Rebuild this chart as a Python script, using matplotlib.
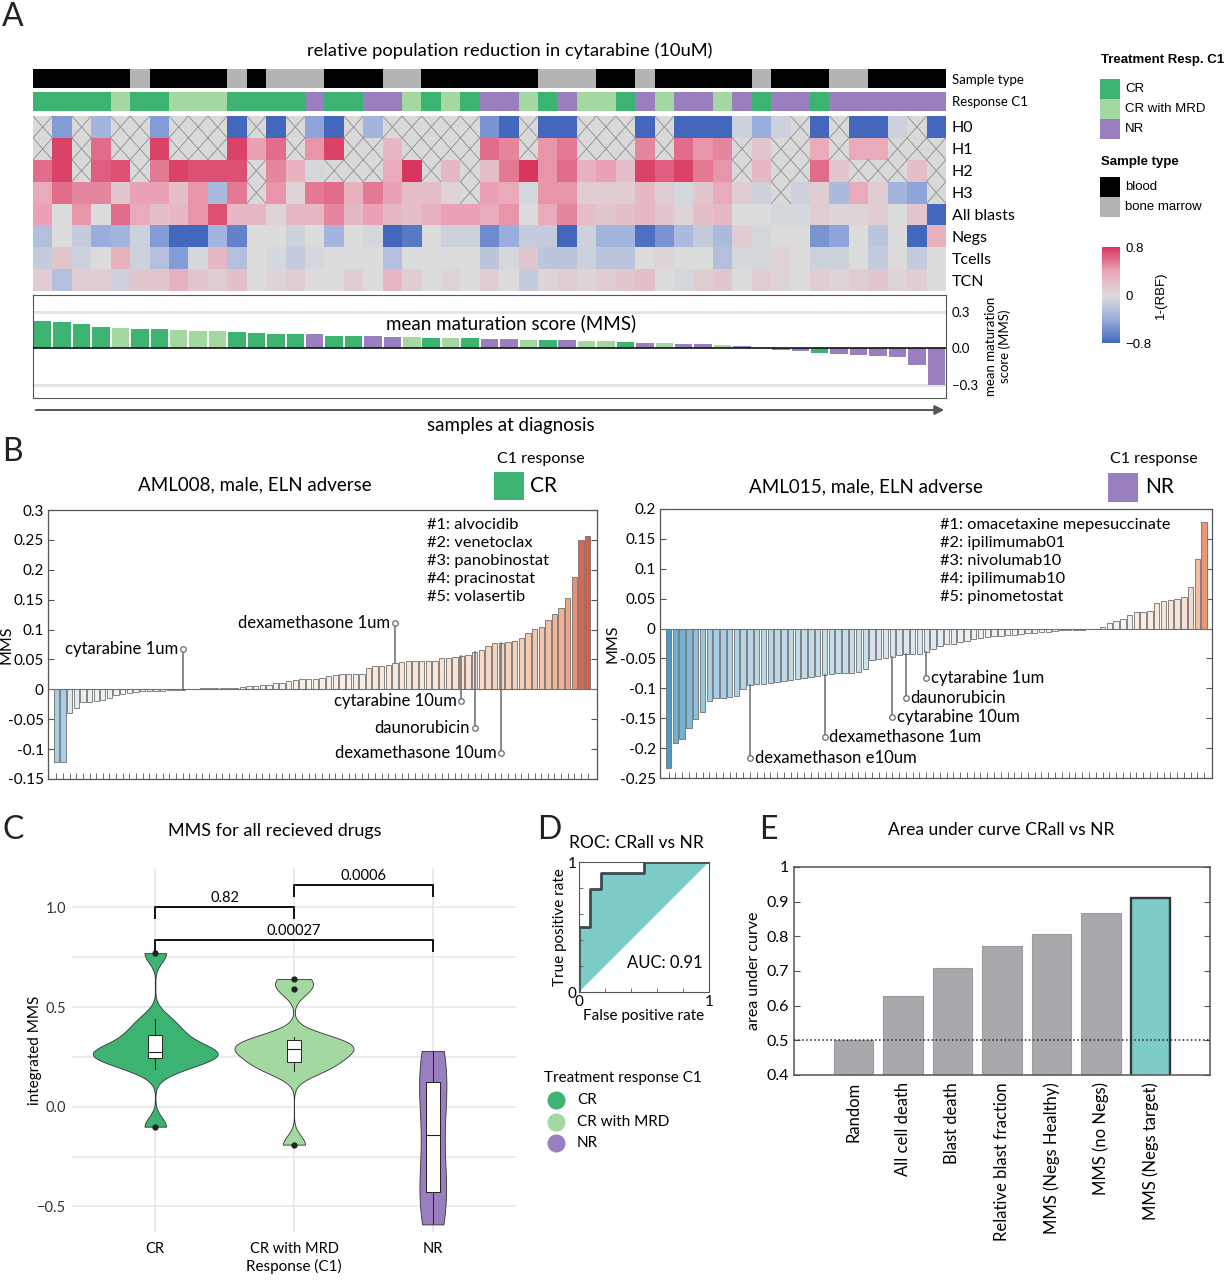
import numpy as np
import matplotlib
matplotlib.use('Agg')
import matplotlib.pyplot as plt
from matplotlib.colors import LinearSegmentedColormap, ListedColormap, Normalize
from matplotlib.patches import Rectangle, FancyArrowPatch
from matplotlib.cm import ScalarMappable
from matplotlib.lines import Line2D

plt.rcParams['font.family'] = ['Lato', 'DejaVu Sans']

W, H = 1229, 1280
nan = np.nan

# ---------------- panel A data (47 samples, sorted by MMS) ----------------
sample_type = "BBBBBMBBBBMBMMMBBBMMBBBBBBMMMBBMBBBBBMBBBMMBBBB"   # B blood, M bone marrow
response = "CCCCMCCMMMCCCCNCCNNMCMCNNMCNMMCNMNNMNCNNCNNNNNN"      # C CR, M CR with MRD, N NR

heat_labels = ['H0', 'H1', 'H2', 'H3', 'All blasts', 'Negs', 'Tcells', 'TCN']
h0 = [nan, -0.5, nan, -0.35, nan, nan, -0.5, nan, nan, nan, -0.8, nan, -0.8, nan, -0.45, -0.8,
      nan, -0.35, nan, nan, nan, nan, nan, -0.55, -0.8, nan, -0.8, -0.8, nan, nan, nan, -0.8,
      nan, -0.8, -0.8, -0.8, -0.1, -0.4, -0.1, nan, -0.8, nan, -0.8, -0.8, -0.1, nan, -0.8]
h1 = [nan, 0.75, nan, 0.6, nan, nan, 0.75, nan, nan, nan, 0.75, 0.4, 0.6, nan, 0.45, 0.75,
      nan, nan, 0.25, nan, nan, nan, nan, 0.6, 0.5, nan, 0.45, 0.55, nan, nan, nan, 0.5,
      nan, 0.6, 0.45, 0.5, nan, 0.15, nan, nan, 0.35, nan, 0.35, 0.35, nan, nan, nan]
h2 = [0.6, 0.75, nan, 0.65, 0.7, nan, 0.55, 0.75, 0.7, 0.7, 0.7, nan, 0.5, 0.3, -0.05, nan,
      nan, nan, 0.35, 0.8, nan, 0.25, nan, 0.2, 0.55, 0.8, 0.45, 0.6, 0.3, 0.4, 0.2, 0.75,
      0.65, 0.75, 0.55, 0.45, nan, 0.25, nan, nan, 0.6, 0.15, nan, nan, nan, 0.2, nan]
h3 = [0.35, 0.6, 0.5, 0.5, 0.15, 0.4, 0.4, 0.2, 0.45, -0.3, 0.55, nan, 0.45, 0.05, 0.55, 0.6,
      0.3, 0.55, 0.4, 0.2, 0.2, 0.05, nan, 0.4, 0.35, -0.05, 0.45, 0.45, 0.1, 0.1, 0.1, 0.25,
      0.1, -0.05, 0.15, 0.35, 0.1, -0.1, nan, -0.1, 0.1, -0.3, 0.35, 0.1, -0.35, -0.45, nan]
blasts = [0.4, 0.0, 0.45, 0.0, 0.6, 0.35, 0.2, 0.25, 0.45, 0.7, 0.25, 0.25, 0.05, 0.25, 0.25, 0.5,
          0.25, 0.4, 0.25, 0.2, 0.3, 0.4, 0.4, 0.35, 0.45, 0.0, 0.35, 0.5, 0.2, 0.15, 0.2, 0.25,
          0.15, 0.05, 0.2, 0.25, 0.0, 0.0, -0.05, -0.05, 0.1, 0.05, 0.05, 0.1, 0.0, 0.15, -0.8]
negs = [-0.25, 0.0, -0.15, -0.4, -0.35, -0.1, -0.5, -0.8, -0.8, -0.35, -0.65, 0.0, 0.0, -0.1, 0.0, -0.35,
        0.0, -0.05, -0.8, -0.7, 0.0, -0.1, -0.1, -0.6, -0.4, -0.15, -0.15, -0.8, -0.1, -0.35, -0.35, -0.75,
        -0.55, -0.3, -0.15, -0.3, 0.1, -0.05, 0.0, 0.0, -0.55, -0.45, 0.0, -0.2, 0.0, -0.8, 0.3]
tcells = [-0.15, 0.15, -0.1, 0.0, 0.3, -0.1, -0.25, -0.5, -0.05, 0.25, -0.25, 0.0, -0.05, -0.15, -0.05, 0.0,
          0.0, 0.0, -0.25, 0.0, 0.0, 0.0, 0.0, -0.2, -0.05, 0.15, -0.2, -0.2, -0.1, -0.2, -0.2, 0.0,
          0.05, 0.0, 0.0, -0.25, -0.05, -0.05, 0.05, 0.0, -0.1, -0.1, 0.0, -0.15, 0.0, -0.15, 0.0]
tcn = [0.1, -0.25, 0.1, 0.1, -0.1, 0.15, 0.15, 0.3, 0.15, 0.1, 0.2, 0.0, 0.05, 0.1, 0.0, 0.0,
       0.1, 0.0, 0.25, 0.1, 0.0, 0.05, 0.0, 0.1, 0.0, -0.15, 0.05, 0.1, 0.05, 0.1, 0.15, 0.2,
       0.0, -0.05, 0.1, 0.15, 0.0, 0.1, 0.05, 0.0, 0.1, 0.05, 0.1, 0.15, 0.05, 0.1, 0.0]

mms = [0.229, 0.221, 0.199, 0.175, 0.169, 0.161, 0.161, 0.150, 0.147, 0.145, 0.134, 0.123,
       0.115, 0.115, 0.115, 0.104, 0.104, 0.098, 0.095, 0.090, 0.085, 0.085, 0.082, 0.079,
       0.074, 0.068, 0.068, 0.065, 0.063, 0.057, 0.052, 0.044, 0.041, 0.038, 0.035, 0.030,
       0.022, 0.002, -0.016, -0.025, -0.041, -0.044, -0.057, -0.060, -0.068, -0.136, -0.305]

resp_names = ['CR', 'CR with MRD', 'NR']
resp_codes = ['C', 'M', 'N']
resp_colors = ['#3cb371', '#a3d8a1', '#9a7fc0']
st_names = ['blood', 'bone marrow']
st_colors = ['#000000', '#b4b4b4']

# ---------------- panel B data ----------------
aml008 = [-0.121, -0.121, -0.039, -0.031, -0.022, -0.021, -0.019, -0.018, -0.015, -0.009,
          -0.008, -0.006, -0.004, -0.003, -0.003, -0.002, -0.002, -0.001, -0.001, -0.0005,
          0.0, 0.001, 0.002, 0.002, 0.003, 0.003, 0.003, 0.003, 0.004, 0.005,
          0.006, 0.007, 0.008, 0.010, 0.010, 0.014, 0.016, 0.017, 0.017, 0.017,
          0.019, 0.023, 0.024, 0.025, 0.025, 0.025, 0.026, 0.036, 0.039, 0.039,
          0.041, 0.044, 0.046, 0.047, 0.048, 0.048, 0.048, 0.048, 0.052, 0.053,
          0.054, 0.056, 0.058, 0.062, 0.066, 0.073, 0.077, 0.078, 0.080, 0.081,
          0.086, 0.094, 0.101, 0.104, 0.116, 0.126, 0.136, 0.153, 0.188, 0.250, 0.257]
aml008_marks = [('cytarabine 1um', 19, 0.068), ('dexamethasone 1um', 51, 0.111),
                ('cytarabine 10um', 61, -0.019), ('daunorubicin', 63, -0.064),
                ('dexamethasone 10um', 67, -0.107)]
aml008_top = ['#1: alvocidib', '#2: venetoclax', '#3: panobinostat', '#4: pracinostat', '#5: volasertib']

aml015 = [-0.233, -0.192, -0.184, -0.167, -0.152, -0.139, -0.122, -0.117, -0.117, -0.114,
          -0.112, -0.101, -0.094, -0.093, -0.092, -0.091, -0.089, -0.088, -0.086, -0.084,
          -0.082, -0.081, -0.079, -0.077, -0.076, -0.075, -0.074, -0.074, -0.073, -0.068,
          -0.053, -0.051, -0.049, -0.047, -0.045, -0.043, -0.043, -0.042, -0.039, -0.034,
          -0.029, -0.026, -0.025, -0.022, -0.020, -0.018, -0.016, -0.014, -0.013, -0.012,
          -0.011, -0.011, -0.009, -0.008, -0.007, -0.006, -0.005, -0.004, -0.003, -0.003,
          -0.002, -0.002, -0.001, -0.0005, 0.002, 0.010, 0.012, 0.016, 0.023, 0.027,
          0.028, 0.029, 0.042, 0.046, 0.047, 0.049, 0.053, 0.070, 0.116, 0.179]
aml015_marks = [('dexamethason e10um', 12, -0.217), ('dexamethasone 1um', 23, -0.182),
                ('cytarabine 10um', 33, -0.148), ('daunorubicin', 35, -0.116),
                ('cytarabine 1um', 38, -0.082)]
aml015_top = ['#1: omacetaxine mepesuccinate', '#2: ipilimumab01', '#3: nivolumab10',
              '#4: ipilimumab10', '#5: pinometostat']

# ---------------- panel C / D / E data ----------------
mms_cr = [-0.10, 0.19, 0.22, 0.25, 0.26, 0.27, 0.28, 0.30, 0.35, 0.38, 0.44, 0.77]
mms_mrd = [-0.19, 0.18, 0.20, 0.23, 0.26, 0.28, 0.30, 0.31, 0.33, 0.35, 0.59, 0.64]
mms_nr = [-0.59, -0.45, -0.40, -0.14, 0.10, 0.15, 0.28]
pvals = [(1, 2, 1.00, '0.82'), (2, 3, 1.11, '0.0006'), (1, 3, 0.835, '0.00027')]

roc_fpr = [0, 0, 0.083, 0.083, 0.167, 0.167, 0.5, 0.5, 1]
roc_tpr = [0, 0.5, 0.5, 0.79, 0.79, 0.917, 0.917, 1, 1]

auc_names = ['Random', 'All cell death', 'Blast death', 'Relative blast fraction',
             'MMS (Negs Healthy)', 'MMS (no Negs)', 'MMS (Negs target)']
auc_vals = [0.50, 0.629, 0.708, 0.773, 0.807, 0.867, 0.910]

TEAL = '#7dccc7'
SPINE = '#555555'

fig = plt.figure(figsize=(W / 100, H / 100), dpi=100)


def add_ax(x0, y0, x1, y1):
    # pixel box (top-left origin) -> figure axes
    return fig.add_axes([x0 / W, 1 - y1 / H, (x1 - x0) / W, (y1 - y0) / H])


def ftext(x, y, s, **kw):
    return fig.text(x / W, 1 - y / H, s, **kw)


def frect(x0, y0, x1, y1, color):
    fig.add_artist(Rectangle((x0 / W, 1 - y1 / H), (x1 - x0) / W, (y1 - y0) / H,
                             transform=fig.transFigure, color=color, lw=0))


def fmt(t):
    return f'{t + 0.0:g}'


for lab, x, y in [('A', 2, 17), ('B', 2, 452), ('C', 2, 830), ('D', 537, 830), ('E', 759, 830)]:
    ftext(x, y, lab, fontsize=23, va='center', ha='left', color='#222222')

# ======================= panel A =======================
n = len(mms)
ftext(510, 51, 'relative population reduction in cytarabine (10uM)', fontsize=13.2,
      ha='center', va='center')

ax_st = add_ax(33, 69, 946, 88)
ax_st.imshow([[0 if s == 'B' else 1 for s in sample_type]], aspect='auto',
             cmap=ListedColormap(st_colors), vmin=0, vmax=1, interpolation='nearest')
ax_rs = add_ax(33, 92, 946, 111)
ax_rs.imshow([[resp_codes.index(r) for r in response]], aspect='auto',
             cmap=ListedColormap(resp_colors), vmin=0, vmax=2, interpolation='nearest')
for a, lab in [(ax_st, 'Sample type'), (ax_rs, 'Response C1')]:
    a.set_xticks([])
    a.yaxis.tick_right()
    a.set_yticks([0])
    a.set_yticklabels([lab], fontsize=9.5)
    a.tick_params(length=0, pad=4)
    for s in a.spines.values():
        s.set_visible(False)

hm_cmap = LinearSegmentedColormap.from_list(
    'hm', [(0, '#4267bd'), (0.25, '#9aaedd'), (0.5, '#dcdcdc'), (0.75, '#eba3b5'), (1, '#d8365f')])
heat = np.array([h0, h1, h2, h3, blasts, negs, tcells, tcn])
ax_hm = add_ax(33, 116, 946, 291)
ax_hm.set_facecolor('#d9d9d9')
ax_hm.pcolormesh(np.arange(n + 1), np.arange(len(heat_labels) + 1), np.ma.masked_invalid(heat),
                 cmap=hm_cmap, vmin=-0.8, vmax=0.8)
for r, c in zip(*np.where(np.isnan(heat))):
    ax_hm.plot([c, c + 1], [r, r + 1], color='#8e8e8e', lw=0.6)
    ax_hm.plot([c, c + 1], [r + 1, r], color='#8e8e8e', lw=0.6)
ax_hm.set_xlim(0, n)
ax_hm.set_ylim(len(heat_labels), 0)
ax_hm.set_xticks([])
ax_hm.yaxis.tick_right()
ax_hm.set_yticks(np.arange(len(heat_labels)) + 0.5)
ax_hm.set_yticklabels(heat_labels, fontsize=11.5)
ax_hm.tick_params(length=0, pad=4)
for s in ax_hm.spines.values():
    s.set_visible(False)

ax_m = add_ax(33, 295, 946, 398)
ax_m.bar(np.arange(n), mms, width=0.9,
         color=[resp_colors[resp_codes.index(r)] for r in response], zorder=2)
ax_m.axhline(0, color='#111111', lw=1.2, zorder=3)
for g in (0.3, -0.3):
    ax_m.axhline(g, color='#e4e4e4', lw=2.2, zorder=0)
ax_m.set_xlim(-0.5, n - 0.5)
ax_m.set_ylim(-0.41, 0.44)
ax_m.set_xticks([])
ax_m.yaxis.tick_right()
ax_m.set_yticks([0.3, 0.0, -0.3])
ax_m.set_yticklabels(['0.3', '0.0', '\u22120.3'], fontsize=9.5)
ax_m.tick_params(length=0, pad=4)
ax_m.yaxis.set_label_position('right')
ax_m.set_ylabel('mean maturation\nscore (MMS)', fontsize=9.5, labelpad=5)
for s in ax_m.spines.values():
    s.set_color(SPINE)
ax_m.text((511 - 33) / 913, 0.73, 'mean maturation score (MMS)', transform=ax_m.transAxes,
          ha='center', va='center', fontsize=13.5)

fig.add_artist(FancyArrowPatch((33 / W, 1 - 410 / H), (947 / W, 1 - 410 / H),
                               transform=fig.transFigure, arrowstyle='-|>',
                               mutation_scale=14, color='#555555', lw=1.4))
ftext(511, 425, 'samples at diagnosis', fontsize=13.5, ha='center', va='center')

# legends on the right
LEG = dict(family=['Liberation Sans', 'DejaVu Sans'], fontsize=9.5, va='center')
ftext(1101, 60, 'Treatment Resp. C1', fontweight='bold', **LEG)
for i, (lab, col) in enumerate(zip(resp_names, resp_colors)):
    y0 = 79 + 20 * i
    frect(1100, y0, 1120, y0 + 20, col)
    ftext(1125, y0 + 10, lab, **LEG)
ftext(1101, 162, 'Sample type', fontweight='bold', **LEG)
for i, (lab, col) in enumerate(zip(st_names, st_colors)):
    y0 = 177 + 20 * i
    frect(1100, y0, 1120, y0 + 20, col)
    ftext(1125, y0 + 10, lab, **LEG)

cax = add_ax(1102, 247, 1120, 343)
cb = fig.colorbar(ScalarMappable(Normalize(-0.8, 0.8), hm_cmap), cax=cax, ticks=[-0.8, 0, 0.8])
cb.outline.set_visible(False)
cb.ax.set_yticklabels(['\u22120.8', '0', '0.8'], family=['Liberation Sans', 'DejaVu Sans'], fontsize=9.5)
cb.ax.tick_params(length=0, pad=4)
cb.set_label('1-(RBF)', family=['Liberation Sans', 'DejaVu Sans'], fontsize=9.5, labelpad=2)

# ======================= panel B =======================
drug_vmin, drug_vmax = -0.25, 0.26
drug_nodes = [(-0.25, '#3f93c6'), (-0.12, '#a8cfe6'), (0.0, '#f8f6f5'), (0.05, '#f8e4d6'),
              (0.1, '#f6c7ad'), (0.18, '#ef9474'), (0.26, '#d65f4b')]
drug_cmap = LinearSegmentedColormap.from_list(
    'drug', [((v - drug_vmin) / (drug_vmax - drug_vmin), c) for v, c in drug_nodes])
drug_norm = Normalize(drug_vmin, drug_vmax)


def drug_panel(box, xlim, vals, ylim, ystep, marks, side, ylab_x):
    ax = add_ax(*box)
    x = np.arange(len(vals))
    ax.bar(x, vals, width=0.8, color=drug_cmap(drug_norm(np.array(vals))),
           edgecolor='#707070', linewidth=0.6, zorder=2)
    ax.axhline(0, color='#707070', lw=0.8, zorder=3)
    for name, i, yend in marks:
        ax.plot([i, i], [vals[i], yend], color='#6a6a6a', lw=1.1, zorder=4)
        ax.plot(i, yend, 'o', ms=4, mfc='white', mec='#6a6a6a', mew=0.9, zorder=5)
        if side == 'left':
            ax.text(i - 0.7, yend, name, ha='right', va='center', fontsize=12, zorder=6)
        else:
            ax.text(i + 0.7, yend, name, ha='left', va='center', fontsize=12, zorder=6)
    ax.set_xlim(*xlim)
    ax.set_ylim(*ylim)
    ticks = np.round(np.arange(ylim[0], ylim[1] + 1e-9, ystep), 3)
    ax.set_yticks(ticks)
    ax.set_yticklabels([fmt(t) for t in ticks], fontsize=11)
    ax.set_xticks(x)
    ax.set_xticklabels([])
    ax.tick_params(axis='y', direction='in', right=True, length=4, color=SPINE, pad=3)
    ax.tick_params(axis='x', direction='in', bottom=True, top=False, length=4, width=0.6,
                   color=SPINE)
    for s in ax.spines.values():
        s.set_color(SPINE)
        s.set_linewidth(0.9)
    ax.set_ylabel('MMS', fontsize=11.5)
    # ylabel anchor is its right edge (rotated text, va='bottom')
    ax.yaxis.set_label_coords((ylab_x - box[0]) / (box[2] - box[0]), 0.5)
    return ax


drug_panel((48, 510, 597, 779), (-1.25, 81.4), aml008, (-0.15, 0.3), 0.05, aml008_marks,
           'left', 14)
drug_panel((660, 509, 1212, 778), (-1.27, 80.15), aml015, (-0.25, 0.2), 0.05, aml015_marks,
           'right', 620)

ftext(255, 485, 'AML008, male, ELN adverse', fontsize=13.5, ha='center', va='center')
ftext(866, 487, 'AML015, male, ELN adverse', fontsize=13.5, ha='center', va='center')
ftext(541, 459, 'C1 response', fontsize=11.5, ha='center', va='center')
ftext(1154, 459, 'C1 response', fontsize=11.5, ha='center', va='center')
frect(494, 472, 524, 500, resp_colors[0])
ftext(530, 486, 'CR', fontsize=15, ha='left', va='center')
frect(1108, 473, 1138, 502, resp_colors[2])
ftext(1145, 487, 'NR', fontsize=15, ha='left', va='center')
for i, (a, b) in enumerate(zip(aml008_top, aml015_top)):
    ftext(427, 525 + 18 * i, a, fontsize=11.8, ha='left', va='center')
    ftext(940, 525 + 18 * i, b, fontsize=11.8, ha='left', va='center')

# ======================= panel C =======================
ax_c = add_ax(72, 868, 516, 1232)
groups = [mms_cr, mms_mrd, mms_nr]


def kde_nrd0(d, grid):
    d = np.asarray(d)
    q75, q25 = np.percentile(d, [75, 25])
    bw = 0.9 * min(d.std(ddof=1), (q75 - q25) / 1.34) * len(d) ** -0.2
    z = (grid[:, None] - d[None, :]) / bw
    return np.exp(-0.5 * z ** 2).sum(axis=1) / (len(d) * bw * np.sqrt(2 * np.pi))


grids = [np.linspace(min(g), max(g), 300) for g in groups]
dens = [kde_nrd0(g, gr) for g, gr in zip(groups, grids)]
scale = 0.45 / max(d.max() for d in dens)
for k, (gr, de, col) in enumerate(zip(grids, dens, resp_colors)):
    ax_c.fill_betweenx(gr, k + 1 - de * scale, k + 1 + de * scale, facecolor=col,
                       edgecolor='#333333', lw=0.6, zorder=2)
ax_c.boxplot(groups, positions=[1, 2, 3], widths=0.1, patch_artist=True,
             boxprops=dict(facecolor='white', edgecolor='#222222', lw=0.7),
             medianprops=dict(color='#222222', lw=0.8),
             whiskerprops=dict(color='#222222', lw=0.7), capprops=dict(lw=0),
             flierprops=dict(marker='o', mfc='#222222', mec='#222222', ms=3.5),
             zorder=3)
for x1, x2, y, lab in pvals:
    ax_c.plot([x1, x1, x2, x2], [y - 0.055, y, y, y - 0.055], color='#111111', lw=1.4, zorder=4)
    ax_c.text((x1 + x2) / 2, y + 0.012, lab, ha='center', va='bottom', fontsize=10.5)
ax_c.set_xlim(0.4, 3.6)
ax_c.set_ylim(-0.628, 1.197)
ax_c.set_xticks([1, 2, 3])
ax_c.set_xticklabels(resp_names, fontsize=10.5)
ax_c.set_yticks([-0.5, 0.0, 0.5, 1.0])
ax_c.set_yticklabels(['\u22120.5', '0.0', '0.5', '1.0'], fontsize=10.5, color='#333333')
ax_c.set_yticks([-0.25, 0.25, 0.75], minor=True)
ax_c.grid(True, which='both', color='#e6e6e6', lw=1.1, zorder=0)
ax_c.set_axisbelow(True)
ax_c.tick_params(which='both', length=0, pad=4)
ax_c.tick_params(axis='x', pad=7)
for s in ax_c.spines.values():
    s.set_visible(False)
ax_c.set_xlabel('Response (C1)', fontsize=11, labelpad=2)
ax_c.set_ylabel('integrated MMS', fontsize=11)
ax_c.yaxis.set_label_coords((42 - 72) / 444, 0.5)
ftext(275, 831, 'MMS for all recieved drugs', fontsize=13, ha='center', va='center')

# ======================= panel D =======================
ax_d = add_ax(579, 862, 709, 992)
ax_d.fill(roc_fpr, roc_tpr, color=TEAL, lw=0, zorder=1)
ax_d.plot(roc_fpr, roc_tpr, color='#3d4b4b', lw=2, zorder=2)
ax_d.set_xlim(0, 1)
ax_d.set_ylim(0, 1)
ax_d.set_xticks([0, 1])
ax_d.set_yticks([0, 1])
ax_d.set_xticklabels(['0', '1'], fontsize=11)
ax_d.set_yticklabels(['0', '1'], fontsize=11)
ax_d.set_xticks([0.2, 0.4, 0.6, 0.8], minor=True)
ax_d.set_yticks([0.2, 0.4, 0.6, 0.8], minor=True)
ax_d.tick_params(which='both', direction='in', length=3, color=SPINE)
ax_d.tick_params(axis='x', pad=2)
ax_d.tick_params(axis='y', pad=2)
for s in ax_d.spines.values():
    s.set_color(SPINE)
ax_d.set_xlabel('False positive rate', fontsize=11, labelpad=0)
ax_d.set_ylabel('True positive rate', fontsize=11, labelpad=0)
ax_d.text(0.95, 0.22, 'AUC: 0.91', ha='right', va='center', fontsize=12, transform=ax_d.transAxes)
ftext(636, 843, 'ROC: CRall vs NR', fontsize=12.5, ha='center', va='center')

ftext(544, 1078, 'Treatment response C1', fontsize=11, ha='left', va='center')
for i, (lab, col) in enumerate(zip(resp_names, resp_colors)):
    y = 1100 + 21.5 * i
    fig.add_artist(Line2D([556 / W], [1 - y / H], marker='o', ms=12, mfc=col, mec=col,
                          transform=fig.transFigure))
    ftext(577, y, lab, fontsize=11, ha='left', va='center')

# ======================= panel E =======================
ax_e = add_ax(794, 867, 1210, 1075)
pos = np.arange(1, len(auc_vals) + 1)
ax_e.bar(pos, auc_vals, width=0.8, bottom=0,
         color=['#a7a9ac'] * (len(auc_vals) - 1) + [TEAL],
         edgecolor=['#9c9c9c'] * (len(auc_vals) - 1) + ['#2e3b3b'],
         linewidth=[0.8] * (len(auc_vals) - 1) + [1.7], zorder=2)
ax_e.axhline(0.5, color='#222222', ls=':', lw=1.1, zorder=3)
ax_e.set_xlim(-0.2, 8.2)
ax_e.set_ylim(0.4, 1.0)
yt = np.round(np.arange(0.4, 1.01, 0.1), 1)
ax_e.set_yticks(yt)
ax_e.set_yticklabels([fmt(t) for t in yt], fontsize=11.5)
ax_e.set_xticks(pos)
ax_e.set_xticklabels(auc_names, rotation=90, fontsize=12)
ax_e.tick_params(axis='y', direction='in', right=True, length=4, color=SPINE)
ax_e.tick_params(axis='x', direction='in', length=3, color=SPINE, pad=5)
for s in ax_e.spines.values():
    s.set_color(SPINE)
    s.set_linewidth(1.1)
ax_e.set_ylabel('area under curve', fontsize=11.5)
ftext(1001, 830, 'Area under curve CRall vs NR', fontsize=12.5, ha='center', va='center')

fig.savefig('out.png', dpi=100)
